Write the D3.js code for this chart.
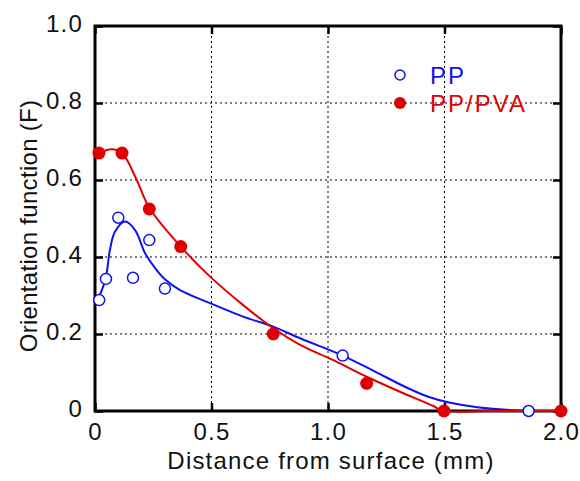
<!DOCTYPE html>
<html>
<head>
<meta charset="utf-8">
<script src="https://cdn.jsdelivr.net/npm/d3@7"></script>
<style>
  body { margin: 0; background: #fff; }
  text { font-family: "Liberation Sans", Arial, sans-serif; }
</style>
</head>
<body>
<svg width="580" height="481"></svg>
<script>
var xTicks = [0, 0.5, 1.0, 1.5, 2.0];
var xTickLabels = ["0", "0.5", "1.0", "1.5", "2.0"];
var yTicks = [0, 0.2, 0.4, 0.6, 0.8, 1.0];
var yTickLabels = ["0", "0.2", "0.4", "0.6", "0.8", "1.0"];

// measured points
var ppX = [0.018, 0.047, 0.100, 0.163, 0.233, 0.300, 1.063, 1.861];
var ppY = [0.288, 0.343, 0.502, 0.346, 0.444, 0.318, 0.144, 0.0];
var pvaX = [0.017, 0.116, 0.233, 0.368, 0.765, 1.166, 1.498, 2.0];
var pvaY = [0.670, 0.670, 0.525, 0.427, 0.200, 0.072, 0.0, 0.0];

// fitted curves
var ppCurveX = [0.018, 0.046, 0.064, 0.086, 0.129, 0.172, 0.215, 0.258, 0.30, 0.365, 0.494, 0.636, 0.765, 0.88, 1.063, 1.2, 1.33, 1.43, 1.52, 1.64, 1.8, 2.0];
var ppCurveY = [0.297, 0.345, 0.418, 0.466, 0.492, 0.470, 0.410, 0.371, 0.342, 0.314, 0.280, 0.245, 0.219, 0.189, 0.144, 0.103, 0.063, 0.037, 0.022, 0.010, 0.002, 0.0];
var pvaCurveX = [0.017, 0.07, 0.116, 0.179, 0.233, 0.368, 0.494, 0.636, 0.765, 0.88, 1.023, 1.166, 1.309, 1.452, 1.49, 1.7, 2.0];
var pvaCurveY = [0.670, 0.680, 0.670, 0.600, 0.528, 0.427, 0.349, 0.275, 0.215, 0.172, 0.132, 0.089, 0.050, 0.013, 0.001, 0.0, 0.0];

var seriesNames = ["PP", "PP/PVA"];
var blue = "#1010f0", red = "#e00000";

var plotLeft = 95, plotRight = 561, plotTop = 26, plotBottom = 411;

var x = d3.scaleLinear().domain([0, 2]).range([plotLeft, plotRight]);
var y = d3.scaleLinear().domain([0, 1]).range([plotBottom, plotTop]);

var svg = d3.select("svg");

// grid
svg.append("g")
  .selectAll("line")
  .data(xTicks.slice(1, -1))
  .enter().append("line")
    .attr("x1", d => x(d)).attr("x2", d => x(d))
    .attr("y1", plotTop).attr("y2", plotBottom)
    .attr("stroke", "#000").attr("stroke-width", 1)
    .attr("stroke-dasharray", "2,3");

svg.append("g")
  .selectAll("line")
  .data(yTicks.slice(1, -1))
  .enter().append("line")
    .attr("x1", plotLeft).attr("x2", plotRight)
    .attr("y1", d => y(d)).attr("y2", d => y(d))
    .attr("stroke", "#000").attr("stroke-width", 1)
    .attr("stroke-dasharray", "2,3");

// axes with inward ticks
var fmtX = (d, i) => xTickLabels[i];
var fmtY = (d, i) => yTickLabels[i];

svg.append("g")
  .attr("transform", "translate(0," + plotBottom + ")")
  .call(d3.axisBottom(x).tickValues(xTicks).tickFormat(fmtX).tickSize(-8).tickPadding(12))
  .call(g => g.select(".domain").remove())
  .call(g => g.selectAll("line").attr("stroke-width", 2.5))
  .call(g => g.selectAll("text").attr("font-size", 24).attr("fill", "#111")
      .attr("letter-spacing", 1.2)
      .attr("font-family", "'Liberation Sans', Arial, sans-serif"));

svg.append("g")
  .attr("transform", "translate(" + plotLeft + ",0)")
  .call(d3.axisLeft(y).tickValues(yTicks).tickFormat(fmtY).tickSize(-8).tickPadding(12))
  .call(g => g.select(".domain").remove())
  .call(g => g.selectAll("line").attr("stroke-width", 2.5))
  .call(g => g.selectAll("text").attr("font-size", 24).attr("fill", "#111")
      .attr("letter-spacing", 1.2).attr("dy", "0.22em")
      .attr("font-family", "'Liberation Sans', Arial, sans-serif"));

svg.append("g")
  .attr("transform", "translate(" + plotRight + ",0)")
  .call(d3.axisRight(y).tickValues(yTicks).tickFormat("").tickSize(-8))
  .call(g => g.select(".domain").remove())
  .call(g => g.selectAll("line").attr("stroke-width", 2.5));

svg.append("g")
  .attr("transform", "translate(0," + plotTop + ")")
  .call(d3.axisTop(x).tickValues(xTicks).tickFormat("").tickSize(-8))
  .call(g => g.select(".domain").remove())
  .call(g => g.selectAll("line").attr("stroke-width", 2.5));

// frame
svg.append("rect")
  .attr("x", plotLeft).attr("y", plotTop)
  .attr("width", plotRight - plotLeft).attr("height", plotBottom - plotTop)
  .attr("fill", "none").attr("stroke", "#000").attr("stroke-width", 3);

// curves
var line = d3.line()
  .x(d => x(d[0])).y(d => y(d[1]))
  .curve(d3.curveCatmullRom.alpha(0.5));

svg.append("path")
  .datum(d3.zip(ppCurveX, ppCurveY))
  .attr("d", line)
  .attr("fill", "none").attr("stroke", blue).attr("stroke-width", 2);

svg.append("path")
  .datum(d3.zip(pvaCurveX, pvaCurveY))
  .attr("d", line)
  .attr("fill", "none").attr("stroke", red).attr("stroke-width", 2);

// markers
svg.append("g")
  .selectAll("circle")
  .data(d3.zip(pvaX, pvaY))
  .enter().append("circle")
    .attr("cx", d => x(d[0])).attr("cy", d => y(d[1]))
    .attr("r", 6.5).attr("fill", red);

svg.append("g")
  .selectAll("circle")
  .data(d3.zip(ppX, ppY))
  .enter().append("circle")
    .attr("cx", d => x(d[0])).attr("cy", d => y(d[1]))
    .attr("r", 5.5).attr("fill", "#fff")
    .attr("stroke", blue).attr("stroke-width", 1.5);

// legend
var legend = svg.append("g").attr("transform", "translate(400,75)");
legend.append("circle").attr("cx", 0).attr("cy", 0).attr("r", 5)
  .attr("fill", "#fff").attr("stroke", blue).attr("stroke-width", 1.5);
legend.append("text").attr("x", 30).attr("y", 9).attr("font-size", 24)
  .attr("letter-spacing", 2).attr("fill", blue).text(seriesNames[0]);
legend.append("circle").attr("cx", 0).attr("cy", 28).attr("r", 6).attr("fill", red);
legend.append("text").attr("x", 30).attr("y", 37).attr("font-size", 24)
  .attr("letter-spacing", 2).attr("fill", red).text(seriesNames[1]);

// axis titles
svg.append("text")
  .attr("x", 331).attr("y", 469)
  .attr("text-anchor", "middle").attr("font-size", 24).attr("fill", "#111")
  .attr("letter-spacing", 1.2)
  .text("Distance from surface (mm)");

svg.append("text")
  .attr("transform", "translate(37,226) rotate(-90)")
  .attr("text-anchor", "middle").attr("font-size", 24).attr("fill", "#111")
  .attr("letter-spacing", 0.3)
  .text("Orientation function (F)");
</script>
</body>
</html>
